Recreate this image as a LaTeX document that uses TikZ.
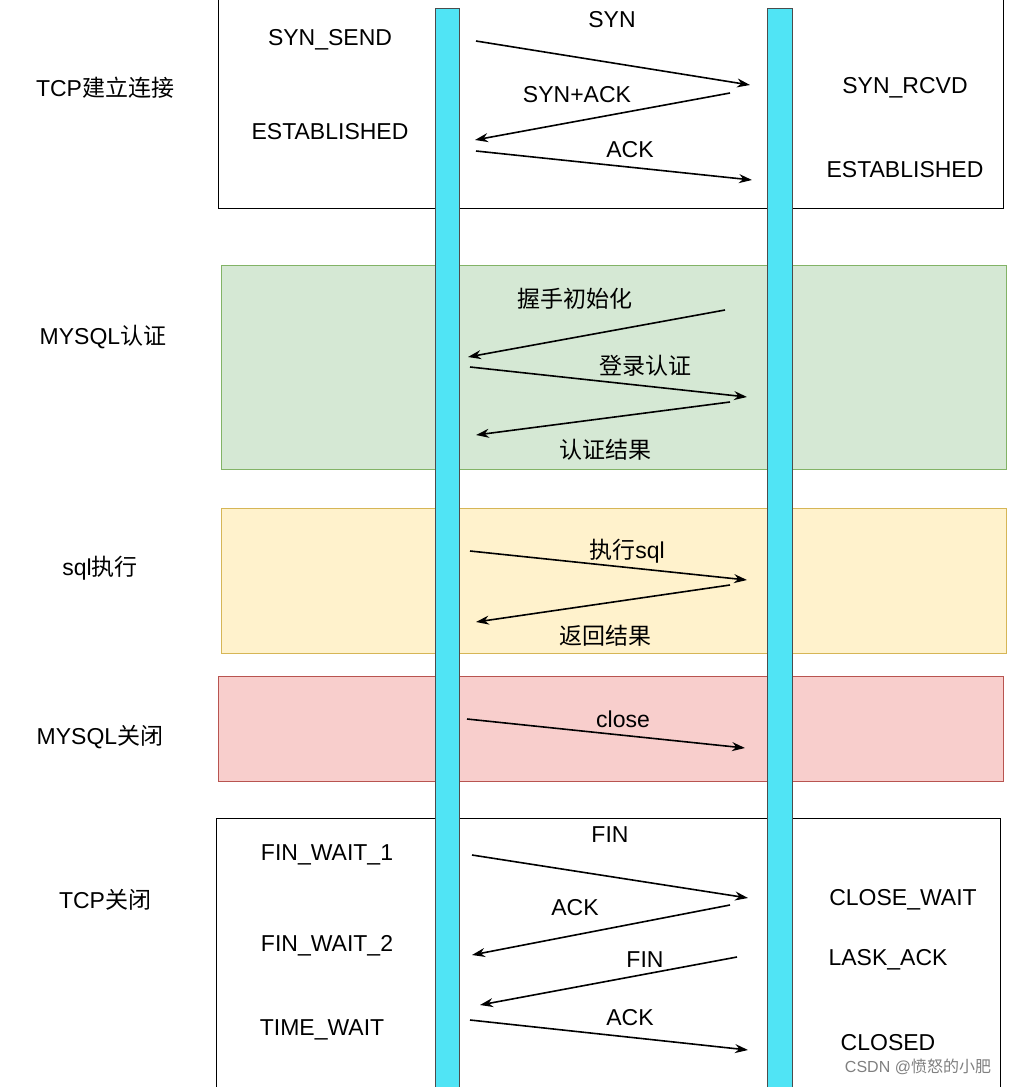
\documentclass[tikz,border=0pt]{standalone}
\usepackage{fontspec}
\setmainfont{Liberation Sans}
\newfontfamily\cjk{Noto Sans CJK SC}
\usetikzlibrary{arrows.meta}
\begin{document}
\begin{tikzpicture}[x=1pt,y=-1pt,
  lbl/.style={font=\fontsize{23}{26}\selectfont,inner sep=0pt},
  msg/.style={line width=1.6pt,-{Stealth[length=13pt,width=9pt]}},
  band/.style={line width=1pt},
  bar/.style={fill={rgb,255:red,80;green,228;blue,245},draw=black!70,line width=1pt}]
\useasboundingbox (0,0) rectangle (1021,1087);
\fill[white] (0,0) rectangle (1021,1087);
% bands
\draw[band,fill=white] (218,-5) rectangle (1003,208);
\draw[band,fill={rgb,255:red,213;green,232;blue,212},draw={rgb,255:red,130;green,179;blue,102}] (221,265) rectangle (1006,469);
\draw[band,fill={rgb,255:red,255;green,242;blue,204},draw={rgb,255:red,214;green,182;blue,86}] (221,508) rectangle (1006,653);
\draw[band,fill={rgb,255:red,248;green,206;blue,204},draw={rgb,255:red,184;green,84;blue,80}] (218,676) rectangle (1003,781);
\draw[band,fill=white] (216,818) rectangle (1000,1095);
% lifelines
\draw[bar] (435,8) rectangle (459,1095);
\draw[bar] (767,8) rectangle (792,1095);
% left labels
\node[lbl] (l1) at (105,88) {TCP{\cjk 建立连接}};
\node[lbl] (l2) at (103,337) {MYSQL{\cjk 认证}};
\node[lbl] (l3) at (100,568) {sql{\cjk 执行}};
\node[lbl] (l4) at (100,737) {MYSQL{\cjk 关闭}};
\node[lbl] (l5) at (105,900) {TCP{\cjk 关闭}};
% states
\node[lbl] (s1) at (330,40) {SYN\_SEND};
\node[lbl] (s2) at (330,132) {ESTABLISHED};
\node[lbl] (s3) at (905,88) {SYN\_RCVD};
\node[lbl] (s4) at (905,170) {ESTABLISHED};
\node[lbl] (s5) at (327,855) {FIN\_WAIT\_1};
\node[lbl] (s6) at (327,946) {FIN\_WAIT\_2};
\node[lbl] (s7) at (322,1030) {TIME\_WAIT};
\node[lbl] (s8) at (903,900) {CLOSE\_WAIT};
\node[lbl] (s9) at (888,960) {LASK\_ACK};
\node[lbl] (s10) at (888,1043) {CLOSED};
% message labels
\node[lbl] (m1) at (612,20) {SYN};
\node[lbl] (m2) at (577,95) {SYN+ACK};
\node[lbl] (m3) at (630,150) {ACK};
\node[lbl] (m4) at (575,299) {\cjk 握手初始化};
\node[lbl] (m5) at (645,366) {\cjk 登录认证};
\node[lbl] (m6) at (605,450) {\cjk 认证结果};
\node[lbl] (m7) at (627,551) {{\cjk 执行}sql};
\node[lbl] (m8) at (605,636) {\cjk 返回结果};
\node[lbl] (m9) at (623,719) {close};
\node[lbl] (m10) at (610,835) {FIN};
\node[lbl] (m11) at (575,908) {ACK};
\node[lbl] (m12) at (645,960) {FIN};
\node[lbl] (m13) at (630,1018) {ACK};
% arrow endpoints
\foreach \n/\x/\y in {a1/476/41,b1/750/85,a2/730/93,b2/475/140,a3/476/151,b3/752/180,
  a4/725/310,b4/468/357,a5/470/367,b5/747/397,a6/730/402,b6/476/435,
  a7/470/551,b7/747/580,a8/730/585,b8/476/622,a9/467/719,b9/745/748,
  a10/472/855,b10/748/898,a11/730/905,b11/472/955,a12/737/957,b12/480/1005,a13/470/1020,b13/748/1050}
  \coordinate (\n) at (\x,\y);
\foreach \i in {1,...,13} \draw[msg] (a\i) -- (b\i);
\node[font=\fontsize{16}{18}\selectfont,text=gray,inner sep=0pt] (wm) at (918,1067) {CSDN @{\cjk 愤怒的小肥}};
\end{tikzpicture}
\end{document}
